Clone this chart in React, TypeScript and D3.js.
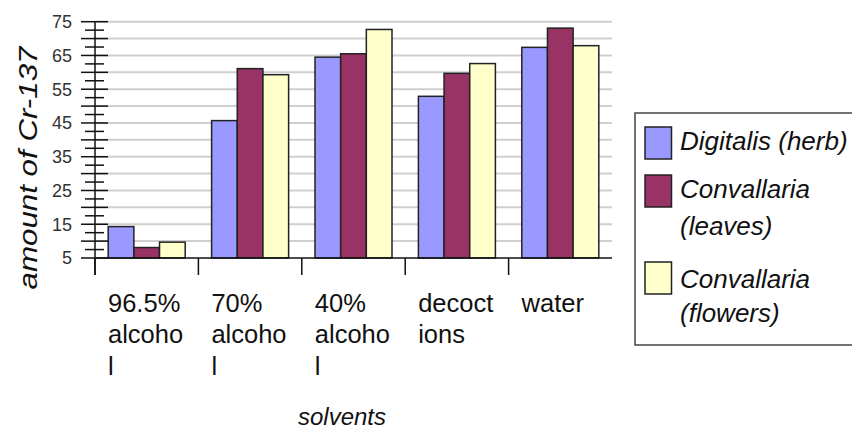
import { scaleBand, scaleLinear, range } from "d3";
import type { FC } from "react";

// solvents (x categories), each label already broken into lines like the original
const categories = ["96.5% alcohol", "70% alcohol", "40% alcohol", "decoctions", "water"];
const categoryLines = [
  ["96.5%", "alcoho", "l"],
  ["70%", "alcoho", "l"],
  ["40%", "alcoho", "l"],
  ["decoct", "ions"],
  ["water"],
];

const seriesNames = ["Digitalis (herb)", "Convallaria (leaves)", "Convallaria (flowers)"];
const legendLines = [["Digitalis (herb)"], ["Convallaria", "(leaves)"], ["Convallaria", "(flowers)"]];
const seriesColors = ["#9999FF", "#993366", "#FFFFCC"];

const digitalisHerb = [14.3, 45.7, 64.5, 52.9, 67.4];
const convallariaLeaves = [8.1, 61.1, 65.5, 59.7, 73.1];
const convallariaFlowers = [9.7, 59.3, 72.7, 62.6, 67.9];
const seriesValues = [digitalisHerb, convallariaLeaves, convallariaFlowers];

const yLabelTicks = [5, 15, 25, 35, 45, 55, 65, 75];

const W = 852;
const H = 432;
const m = { left: 95, right: 612, top: 21.7, bottom: 258 };

const App: FC = () => {
  const x = scaleBand<string>().domain(categories).range([m.left, m.right]);
  const xs = scaleBand<string>()
    .domain(seriesNames)
    .range([13.2, x.bandwidth() - 13.2]);
  const y = scaleLinear().domain([5, 75]).range([m.bottom, m.top]);

  const gridTicks = range(10, 76, 5);
  const majorTicks = range(5, 76, 5);
  const minorTicks = range(7.5, 75, 5);

  const font = "'Liberation Sans', Arial, sans-serif";

  // legend rows: swatch top and text baselines
  const legendRows = [
    { sw: 127, base: [150] },
    { sw: 175, base: [198, 235] },
    { sw: 262, base: [288, 322] },
  ];

  return (
    <svg
      width={W}
      height={H}
      style={{ position: "absolute", left: 0, top: 0, background: "#fff" }}
      fontFamily={font}
    >
      <rect width={W} height={H} fill="#fff" />

      {/* grid */}
      {gridTicks.map((t) => (
        <line
          key={`g${t}`}
          x1={m.left}
          x2={m.right}
          y1={y(t)}
          y2={y(t)}
          stroke="#cfcfcf"
          strokeWidth={2}
        />
      ))}

      {/* bars */}
      {categories.map((c, ci) =>
        seriesNames.map((s, si) => {
          const v = seriesValues[si][ci];
          return (
            <rect
              key={`${ci}-${si}`}
              x={(x(c) ?? 0) + (xs(s) ?? 0)}
              y={y(v)}
              width={xs.bandwidth()}
              height={y(5) - y(v)}
              fill={seriesColors[si]}
              stroke="#222"
              strokeWidth={1.5}
            />
          );
        }),
      )}

      {/* y axis */}
      <line x1={m.left} x2={m.left} y1={y(75)} y2={275} stroke="#111" strokeWidth={1.5} />
      {majorTicks.map((t) => (
        <line key={`M${t}`} x1={81} x2={108} y1={y(t)} y2={y(t)} stroke="#111" strokeWidth={1.5} />
      ))}
      {minorTicks.map((t) => (
        <line key={`m${t}`} x1={85} x2={104} y1={y(t)} y2={y(t)} stroke="#111" strokeWidth={1.5} />
      ))}
      {yLabelTicks.map((t) => (
        <text
          key={`l${t}`}
          x={72}
          y={y(t)}
          dy="0.36em"
          textAnchor="end"
          fontSize={18}
          fill="#333"
        >
          {t}
        </text>
      ))}

      {/* x axis */}
      <line x1={m.left} x2={m.right} y1={m.bottom} y2={m.bottom} stroke="#111" strokeWidth={1.5} />
      {categories.map((c) => (
        <line
          key={`t${c}`}
          x1={x(c)}
          x2={x(c)}
          y1={m.bottom}
          y2={275}
          stroke="#111"
          strokeWidth={1.5}
        />
      ))}
      {categories.map((c, ci) => (
        <text key={`x${c}`} x={(x(c) ?? 0) + 13} y={311.5} fontSize={25.5} fill="#111">
          {categoryLines[ci].map((ln, li) => (
            <tspan key={li} x={(x(c) ?? 0) + 13} dy={li === 0 ? 0 : 31.7}>
              {ln}
            </tspan>
          ))}
        </text>
      ))}

      {/* axis titles */}
      <text
        transform="translate(37,168) rotate(-90)"
        textAnchor="middle"
        fontSize={25}
        fontStyle="italic"
        textLength={243}
        lengthAdjust="spacingAndGlyphs"
        fill="#111"
      >
        amount of Cr-137
      </text>
      <text x={342} y={425} textAnchor="middle" fontSize={24} fontStyle="italic" fill="#111">
        solvents
      </text>

      {/* legend */}
      <rect x={635} y={113} width={240} height={232} fill="#fff" stroke="#444" strokeWidth={1.5} />
      {seriesNames.map((s, si) => (
        <g key={`lg${s}`}>
          <rect
            x={645}
            y={legendRows[si].sw}
            width={26.5}
            height={32}
            fill={seriesColors[si]}
            stroke="#222"
            strokeWidth={1.5}
          />
          {legendLines[si].map((ln, li) => (
            <text
              key={li}
              x={680}
              y={legendRows[si].base[li]}
              fontSize={26}
              fontStyle="italic"
              fill="#111"
            >
              {ln}
            </text>
          ))}
        </g>
      ))}
    </svg>
  );
};

export default App;
